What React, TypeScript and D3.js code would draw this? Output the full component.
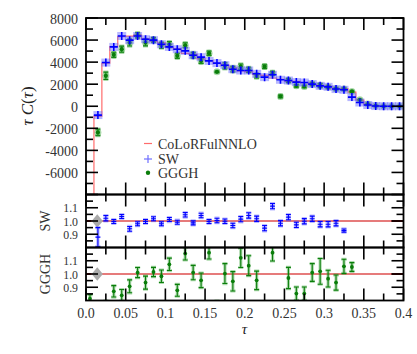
import React from "react";
import * as d3 from "d3";

// ---- data ----
const tau = [0.005, 0.015, 0.025, 0.035, 0.045, 0.055, 0.065, 0.075, 0.085, 0.095,
  0.105, 0.115, 0.125, 0.135, 0.145, 0.155, 0.165, 0.175, 0.185, 0.195,
  0.205, 0.215, 0.225, 0.235, 0.245, 0.255, 0.265, 0.275, 0.285, 0.295,
  0.305, 0.315, 0.325, 0.335, 0.345, 0.355, 0.365, 0.375, 0.385, 0.395];
const binEdges = [0, 0.4];
const binWidth = 0.01;

const colorful = [-12000, -900, 3900, 5400, 6300, 6350, 6450, 6100, 5900, 5750,
  5350, 5200, 4800, 4700, 4300, 4130, 3900, 3730, 3480, 3200,
  3120, 2890, 2790, 2560, 2430, 2270, 2250, 2150, 1970, 1900,
  1800, 1580, 1600, 1280, 560, 180, 40, 10, 0, 0];

const sw = [null, -800, 3960, 5380, 6370, 5990, 6370, 6080, 5990, 5620,
  5380, 5170, 5020, 4630, 4450, 4110, 3910, 3720, 3360, 3240,
  3240, 2940, 2640, 2850, 2400, 2330, 2190, 2150, 2010, 1850,
  1760, 1560, 1490, 830, 340, 110, 20, 0, 0, 0];

const gggh = [null, -2370, 2760, 4660, 5170, 5770, 6440, 5770, 6010, 5530,
  5620, 4570, 5530, 4630, 4110, 4810, 3120, 3660, 3360, 3600,
  3300, 2760, 3600, 3000, 890, 2330, 1850, 1790, 2010, 1880,
  1740, 1580, 1560, 1340, 590, 200, 45, 0, 0, 0];

const swRatio = [null, 0.878, 1.021, 0.996, 1.034, 0.941, 0.979, 0.996, 1.017, 0.979,
  1.011, 0.991, 1.047, 0.986, 1.042, 0.996, 1.004, 0.998, 0.966, 1.014,
  1.042, 1.017, 0.946, 1.112, 0.983, 1.029, 0.971, 0.998, 1.017, 0.976,
  0.976, 0.983, 0.928, null, null, null, null, null, null, null];

const swRatioErr = [0, 0.072, 0.02, 0.015, 0.015, 0.018, 0.015, 0.015, 0.015, 0.015,
  0.015, 0.015, 0.017, 0.015, 0.017, 0.015, 0.017, 0.017, 0.017, 0.02,
  0.02, 0.02, 0.02, 0.02, 0.02, 0.02, 0.02, 0.02, 0.02, 0.02,
  0.02, 0.02, 0.012, 0.02, 0.02, 0.02, 0.02, 0.02, 0.02, 0.02];

const ggghRatio = [0.814, null, 0.71, 0.869, 0.839, 0.907, 1.011, 0.935, 1.015, 0.983,
  1.073, 0.877, 1.154, 1.011, 0.952, 1.161, 0.78, 1.003, 0.945, 1.122,
  1.063, 0.952, 1.29, 1.161, 0.37, 0.97, 0.852, 0.852, 1.011, 1.02,
  0.965, 0.935, 1.058, 1.053, null, null, null, null, null, null];

const ggghRatioErr = [0.03, 0.33, 0.085, 0.043, 0.044, 0.049, 0.038, 0.049, 0.035, 0.047,
  0.047, 0.045, 0.048, 0.054, 0.055, 0.048, 0.015, 0.075, 0.073, 0.073,
  0.075, 0.07, 0.06, 0.063, 0.05, 0.08, 0.05, 0.05, 0.067, 0.097,
  0.063, 0.057, 0.053, 0.033, 0.05, 0.05, 0.05, 0.05, 0.05, 0.05];

const refMarkerTau = 0.0142;

const xTickMajor = [0, 0.05, 0.1, 0.15, 0.2, 0.25, 0.3, 0.35, 0.4];
const xTickLabels = ["0.0", "0.05", "0.1", "0.15", "0.2", "0.25", "0.3", "0.35", "0.4"];
const xTickMinor = [0.025, 0.075, 0.125, 0.175, 0.225, 0.275, 0.325, 0.375];
const yMainMajor = [-8000, -6000, -4000, -2000, 0, 2000, 4000, 6000, 8000];
const yMainLabels = ["", "-6000", "-4000", "-2000", "0", "2000", "4000", "6000", "8000"];
const yMainMinor = [-7000, -5000, -3000, -1000, 1000, 3000, 5000, 7000];
const yRatioMajor = [0.9, 1.0, 1.1];
const yRatioLabels = ["0.9", "1.0", "1.1"];
const yRatioMinor = [0.85, 0.95, 1.05, 1.15];

const legendLabels = ["CoLoRFulNNLO", "SW", "GGGH"];

// ---- layout ----
const W = 417, H = 354;
const X0 = 86, X1 = 403.5;
const MAIN = [18, 194.5];
const SWP = [194.5, 247.5];
const GGP = [247.5, 300.5];
const FONT = "'Liberation Serif', 'DejaVu Serif', serif";
const MAJ = 12, MIN = 7;

const x = d3.scaleLinear().domain(binEdges).range([X0, X1]);
const yMain = d3.scaleLinear().domain([-8000, 8000]).range([MAIN[1], MAIN[0]]);
const ySW = d3.scaleLinear().domain([0.8, 1.2]).range([SWP[1], SWP[0]]);
const yGG = d3.scaleLinear().domain([0.8, 1.2]).range([GGP[1], GGP[0]]);

const RED = "#ff6b6b";
const BLUE = "#0000ff";
const GREEN = "#0a7d0a";

function Frame({ y0, y1, yScale, yMajor, yMinor, yLabels, labelSize }: any) {
  const els: any[] = [];
  xTickMajor.forEach((t, i) => {
    const xx = x(t);
    els.push(<line key={"xt" + i} x1={xx} x2={xx} y1={y0} y2={y0 + MAJ} />);
    els.push(<line key={"xb" + i} x1={xx} x2={xx} y1={y1} y2={y1 - MAJ} />);
  });
  xTickMinor.forEach((t, i) => {
    const xx = x(t);
    els.push(<line key={"xmt" + i} x1={xx} x2={xx} y1={y0} y2={y0 + MIN} />);
    els.push(<line key={"xmb" + i} x1={xx} x2={xx} y1={y1} y2={y1 - MIN} />);
  });
  yMajor.forEach((v: number, i: number) => {
    const yy = yScale(v);
    els.push(<line key={"yl" + i} x1={X0} x2={X0 + MAJ} y1={yy} y2={yy} />);
    els.push(<line key={"yr" + i} x1={X1} x2={X1 - MAJ} y1={yy} y2={yy} />);
  });
  yMinor.forEach((v: number, i: number) => {
    const yy = yScale(v);
    els.push(<line key={"yml" + i} x1={X0} x2={X0 + MIN} y1={yy} y2={yy} />);
    els.push(<line key={"ymr" + i} x1={X1} x2={X1 - MIN} y1={yy} y2={yy} />);
  });
  return (
    <g>
      <g stroke="#000" strokeWidth={1.6}>{els}</g>
      <rect x={X0} y={y0} width={X1 - X0} height={y1 - y0} fill="none" stroke="#000" strokeWidth={1.8} />
      <g fontFamily={FONT} fontSize={labelSize} fill="#333" textAnchor="end">
        {yMajor.map((v: number, i: number) =>
          yLabels[i] ? (
            <text key={"lab" + i} x={78} y={yScale(v) + labelSize * 0.4}>{yLabels[i]}</text>
          ) : null
        )}
      </g>
    </g>
  );
}

function BluePlus({ cx, cy }: any) {
  return (
    <g>
      <rect x={cx - 4.5} y={cy - 4} width={9} height={8} fill="#6060ff" opacity={0.45} />
      <line x1={cx - 4} x2={cx + 4} y1={cy} y2={cy} stroke={BLUE} strokeWidth={1.6} />
      <line x1={cx} x2={cx} y1={cy - 4} y2={cy + 4} stroke={BLUE} strokeWidth={1.6} />
    </g>
  );
}

function ErrBar({ cx, yTop, yBot, color, halo, cap }: any) {
  const d = `M${cx - cap},${yTop}H${cx + cap}M${cx},${yTop}V${yBot}M${cx - cap},${yBot}H${cx + cap}`;
  return (
    <g fill="none">
      <path d={d} stroke={halo} strokeWidth={3.2} opacity={0.4} />
      <path d={d} stroke={color} strokeWidth={1.1} />
    </g>
  );
}

export default function App() {
  const stepData: [number, number][] = [];
  tau.forEach((t, i) => {
    stepData.push([t - binWidth / 2, colorful[i]]);
  });
  stepData.push([tau[tau.length - 1] + binWidth / 2, colorful[colorful.length - 1]]);
  const stepLine = d3.line<[number, number]>()
    .x((d) => x(d[0]))
    .y((d) => yMain(d[1]))
    .curve(d3.curveStepAfter);

  return (
    <svg width={W} height={H} style={{ position: "absolute", left: 0, top: 0, background: "#fff" }}>
      <defs>
        <clipPath id="cMain"><rect x={X0} y={MAIN[0]} width={X1 - X0} height={MAIN[1] - MAIN[0]} /></clipPath>
        <clipPath id="cSW"><rect x={X0} y={SWP[0]} width={X1 - X0} height={SWP[1] - SWP[0]} /></clipPath>
        <clipPath id="cGG"><rect x={X0} y={GGP[0]} width={X1 - X0} height={GGP[1] - GGP[0]} /></clipPath>
      </defs>

      {/* main panel */}
      <g clipPath="url(#cMain)">
        <path d={stepLine(stepData) || ""} fill="none" stroke={RED} strokeWidth={1.2} />
        {tau.map((t, i) => {
          const v = gggh[i];
          if (v === null) return null;
          const e = ggghRatioErr[i] * Math.abs(colorful[i]);
          return (
            <g key={"gm" + i}>
              <ErrBar cx={x(t)} yTop={yMain(v + e)} yBot={yMain(v - e)} color={GREEN} halo="#30a030" cap={2.5} />
              <circle cx={x(t)} cy={yMain(v)} r={3.5} fill="#30a030" opacity={0.4} />
              <circle cx={x(t)} cy={yMain(v)} r={2.1} fill={GREEN} />
            </g>
          );
        })}
        {tau.map((t, i) => {
          const v = sw[i];
          if (v === null) return null;
          return <BluePlus key={"bm" + i} cx={x(t)} cy={yMain(v)} />;
        })}
      </g>

      {/* SW ratio panel */}
      <g clipPath="url(#cSW)">
        <line x1={x(0)} x2={x(0.4)} y1={ySW(1)} y2={ySW(1)} stroke="#e05a5a" strokeWidth={2.2} opacity={0.8} />
        <line x1={x(0)} x2={x(0.006)} y1={ySW(1)} y2={ySW(1)} stroke="#8b0000" strokeWidth={2.2} />
        <line x1={x(0.385)} x2={x(0.4)} y1={ySW(1)} y2={ySW(1)} stroke="#8b0000" strokeWidth={2.2} />
        <path d={d3.symbol(d3.symbolDiamond, 60)() || ""} transform={`translate(${x(refMarkerTau)},${ySW(1)}) scale(1.35,0.95)`} fill="#aaa" />
        {tau.map((t, i) => {
          const r = swRatio[i];
          if (r === null) return null;
          const e = swRatioErr[i];
          const cx = x(t);
          return (
            <g key={"sr" + i}>
              <ErrBar cx={cx} yTop={ySW(r + e)} yBot={ySW(r - e)} color={BLUE} halo="#5050ff" cap={2.5} />
              <line x1={cx - 2.5} x2={cx + 2.5} y1={ySW(r)} y2={ySW(r)} stroke={BLUE} strokeWidth={1.1} />
            </g>
          );
        })}
      </g>

      {/* GGGH ratio panel */}
      <g clipPath="url(#cGG)">
        <line x1={x(0)} x2={x(0.4)} y1={yGG(1)} y2={yGG(1)} stroke="#e05a5a" strokeWidth={2.2} opacity={0.8} />
        <line x1={x(0)} x2={x(0.006)} y1={yGG(1)} y2={yGG(1)} stroke="#8b0000" strokeWidth={2.2} />
        <line x1={x(0.385)} x2={x(0.4)} y1={yGG(1)} y2={yGG(1)} stroke="#8b0000" strokeWidth={2.2} />
        <path d={d3.symbol(d3.symbolDiamond, 60)() || ""} transform={`translate(${x(refMarkerTau)},${yGG(1)}) scale(1.35,0.95)`} fill="#aaa" />
        {tau.map((t, i) => {
          const r = ggghRatio[i];
          if (r === null) return null;
          const e = ggghRatioErr[i];
          const cx = x(t);
          return (
            <g key={"gr" + i}>
              <ErrBar cx={cx} yTop={yGG(r + e)} yBot={yGG(r - e)} color={GREEN} halo="#30a030" cap={2.5} />
              <circle cx={cx} cy={yGG(r)} r={1.9} fill={GREEN} />
            </g>
          );
        })}
      </g>

      <Frame y0={MAIN[0]} y1={MAIN[1]} yScale={yMain} yMajor={yMainMajor} yMinor={yMainMinor} yLabels={yMainLabels} labelSize={14} />
      <Frame y0={SWP[0]} y1={SWP[1]} yScale={ySW} yMajor={yRatioMajor} yMinor={yRatioMinor} yLabels={yRatioLabels} labelSize={11.8} />
      <Frame y0={GGP[0]} y1={GGP[1]} yScale={yGG} yMajor={yRatioMajor} yMinor={yRatioMinor} yLabels={yRatioLabels} labelSize={11.8} />

      {/* x tick labels */}
      <g fontFamily={FONT} fontSize={14} fill="#333" textAnchor="middle">
        {xTickMajor.map((t, i) => (
          <text key={"xl" + i} x={x(t)} y={317.5}>{xTickLabels[i]}</text>
        ))}
      </g>

      {/* axis titles */}
      <g fontFamily={FONT} fill="#222">
        <text x={244.5} y={334} fontSize={15} fontStyle="italic" textAnchor="middle">τ</text>
        <text transform="translate(33,106) rotate(-90)" fontSize={17} textAnchor="middle">
          <tspan fontStyle="italic">τ</tspan>
          <tspan> </tspan>
          <tspan fontStyle="italic">C</tspan>
          <tspan>(</tspan>
          <tspan fontStyle="italic">τ</tspan>
          <tspan>)</tspan>
        </text>
        <text transform={`translate(50,${ySW(1)}) rotate(-90)`} fontSize={14} textAnchor="middle" fill="#333">SW</text>
        <text transform={`translate(50,${yGG(1)}) rotate(-90)`} fontSize={14} textAnchor="middle" fill="#333">GGGH</text>
      </g>

      {/* legend */}
      <g fontFamily={FONT} fontSize={14} fill="#333">
        <line x1={144} x2={152} y1={143.5} y2={143.5} stroke={RED} strokeWidth={1.2} />
        <text x={158} y={148.5}>{legendLabels[0]}</text>
        <line x1={144} x2={152} y1={159} y2={159} stroke="#7070ff" strokeWidth={1.2} />
        <line x1={148} x2={148} y1={155} y2={163} stroke="#7070ff" strokeWidth={1.2} />
        <text x={158} y={164}>{legendLabels[1]}</text>
        <circle cx={148} cy={172.7} r={2.2} fill={GREEN} />
        <text x={158} y={177.7}>{legendLabels[2]}</text>
      </g>
    </svg>
  );
}
